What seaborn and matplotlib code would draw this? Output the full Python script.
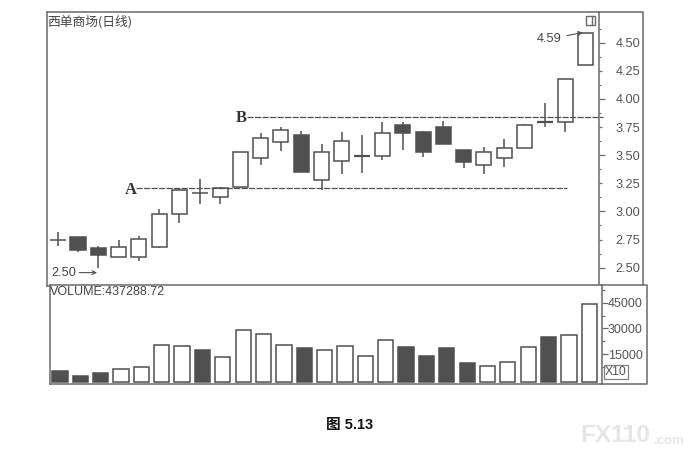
# 西单商场 daily candles with volume panel
import matplotlib
matplotlib.use('Agg')
import matplotlib.pyplot as plt
from matplotlib.lines import Line2D
from matplotlib.patches import Rectangle
from matplotlib.ticker import FixedLocator
import pandas as pd
import seaborn as sns

# Candle data
opens  = [2.746, 2.776, 2.678, 2.598, 2.598, 2.681, 2.974, 3.167, 3.128, 3.217, 3.478, 3.617, 3.679, 3.279,
          3.445, 3.496, 3.493, 3.768, 3.703, 3.748, 3.549, 3.410, 3.475, 3.567, 3.798, 3.792, 4.299]
closes = [2.746, 2.657, 2.613, 2.687, 2.752, 2.974, 3.188, 3.167, 3.205, 3.531, 3.650, 3.724, 3.354, 3.528,
          3.626, 3.496, 3.694, 3.697, 3.525, 3.602, 3.439, 3.528, 3.567, 3.765, 3.798, 4.174, 4.589]
highs  = [2.814, 2.776, 2.696, 2.743, 2.782, 3.022, 3.205, 3.288, 3.220, 3.531, 3.700, 3.754, 3.715, 3.602,
          3.709, 3.679, 3.792, 3.798, 3.718, 3.804, 3.549, 3.576, 3.641, 3.777, 3.967, 4.174, 4.589]
lows   = [2.696, 2.636, 2.500, 2.598, 2.562, 2.672, 2.900, 3.063, 3.063, 3.217, 3.413, 3.540, 3.354, 3.190,
          3.336, 3.339, 3.454, 3.543, 3.487, 3.602, 3.383, 3.330, 3.392, 3.567, 3.748, 3.709, 4.299]

volumes = [5060, 2330, 3890, 6035, 7205, 20270, 19685, 17345, 13250, 29045, 26510, 20465, 18515, 17150,
           19880, 13640, 23195, 19295, 13835, 18710, 9740, 7790, 10520, 19295, 24755, 26315, 44060]
vol_dark = [1, 1, 1, 0, 0, 0, 0, 1, 0, 0, 0, 0, 1, 0, 0, 0, 0, 1, 1, 1, 1, 0, 0, 0, 1, 0, 0]

price_ticks = [2.50, 2.75, 3.00, 3.25, 3.50, 3.75, 4.00, 4.25, 4.50]
vol_ticks = [15000, 30000, 45000]

level_a = 3.21
level_b = 3.84

DARK = '#505050'
GREY = '#6a6a6a'
W, H = 700, 459

sns.set_style('white')
plt.rcParams['font.family'] = ['Liberation Sans', 'Noto Sans CJK SC']

fig = plt.figure(figsize=(7.0, 4.59), dpi=100)


# axes placed by pixel box, y counted from the top of the picture
def add_box(x0, y0, x1, y1):
    return fig.add_axes([x0 / W, 1 - y1 / H, (x1 - x0) / W, (y1 - y0) / H])


def frame_line(xs, ys, lw=1.1):
    fig.add_artist(Line2D([x / W for x in xs], [1 - y / H for y in ys], color=GREY, lw=lw))


# Price panel
ax = add_box(47, 12, 599, 286)
for i in range(len(opens)):
    top = max(opens[i], closes[i])
    bottom = min(opens[i], closes[i])
    ax.vlines(i, lows[i], highs[i], color=DARK, lw=1.1, zorder=1)
    if top - bottom < 0.001:
        ax.hlines(top, i - 0.385, i + 0.385, color=DARK, lw=1.6 if i in (15, 24) else 1.1, zorder=2)
    else:
        face = DARK if closes[i] < opens[i] else 'white'
        ax.bar(i, top - bottom, 0.74, bottom=bottom, facecolor=face, edgecolor=DARK, lw=1.1, zorder=2)

ax.hlines(level_a, 3.86, 25.07, color=DARK, lw=0.9, linestyles=(0, (5, 1)))
ax.hlines(level_b, 9.33, 26.86, color=DARK, lw=0.9, linestyles=(0, (5, 1)), clip_on=False)
ax.text(3.58, level_a - 0.02, 'A', family='Liberation Serif', weight='bold', fontsize=12, color='#333333',
        ha='center', va='center')
ax.text(9.05, level_b - 0.01, 'B', family='Liberation Serif', weight='bold', fontsize=12, color='#333333',
        ha='center', va='center')

ax.annotate('2.50', xy=(1.94, 2.456), xytext=(0.9, 2.456), color='#444444', fontsize=9.2, ha='right', va='center',
            arrowprops=dict(arrowstyle='->', color=DARK, lw=0.8, shrinkA=0, shrinkB=0, mutation_scale=7))
ax.annotate('4.59', xy=(25.88, 4.59), xytext=(24.8, 4.53), color='#444444', fontsize=9.2, ha='right', va='center',
            arrowprops=dict(arrowstyle='->', color=DARK, lw=0.8, shrinkA=2, shrinkB=0, mutation_scale=7))
ax.text(0.0, 0.963, '西单商场(日线)', transform=ax.transAxes, fontsize=9.2, color='#444444', va='center',
        family=['Noto Sans CJK SC', 'Liberation Sans'])

ax.set_xlim(-0.527, 26.67)
ax.set_ylim(2.337, 4.772)
ax.set_xticks([])
ax.yaxis.tick_right()
ax.set_yticks(price_ticks)
ax.set_yticklabels(['%.2f' % t for t in price_ticks], color='#555555', fontsize=9.2)
ax.yaxis.set_minor_locator(FixedLocator([2.625, 2.875, 3.125, 3.375, 3.625, 3.875, 4.125, 4.375, 4.625]))
ax.tick_params(axis='y', which='major', right=True, length=4, width=0.9, color=GREY, pad=8)
ax.tick_params(axis='y', which='minor', right=True, length=1.5, width=0.8, color=GREY)
for tick, t in zip(ax.yaxis.get_major_ticks(), price_ticks):
    if t in (2.75, 3.25, 3.75, 4.25):
        tick.tick2line.set_markersize(2)
for s in ax.spines.values():
    s.set_color(GREY)
    s.set_linewidth(1.1)

# Volume panel
vol_floor = -1375
vol_df = pd.DataFrame({'day': range(len(volumes)),
                       'height': [v - vol_floor for v in volumes],
                       'dark': vol_dark})
ax2 = add_box(50, 285, 601.5, 384)
sns.barplot(data=vol_df, x='day', y='height', hue='dark', palette={0: 'white', 1: DARK}, dodge=False,
            legend=False, width=0.75, edgecolor=DARK, linewidth=1.1, bottom=vol_floor, ax=ax2)
ax2.set_xlim(-0.49, 26.6)
ax2.set_ylim(-2545, 55370)
ax2.set_xlabel('')
ax2.set_ylabel('')
ax2.set_xticks([])
ax2.yaxis.tick_right()
ax2.set_yticks(vol_ticks)
ax2.set_yticklabels([str(t) for t in vol_ticks], color='#555555', fontsize=9)
ax2.yaxis.set_minor_locator(FixedLocator([7500, 22500, 37500, 52500]))
ax2.tick_params(axis='y', which='major', right=True, length=4, width=0.9, color=GREY, pad=0.6)
ax2.tick_params(axis='y', which='minor', right=True, length=2, width=0.8, color=GREY)
ax2.text(0.0, 0.925, 'VOLUME:437288.72', transform=ax2.transAxes, fontsize=9, color='#444444', va='center')
for s in ax2.spines.values():
    s.set_color(GREY)
    s.set_linewidth(1.1)

# Outer frame right of the axes
frame_line([599, 643, 643], [12, 12, 285])
frame_line([601, 647, 647, 601], [285, 285, 384, 384])

# small window icon and the X10 box
fig.add_artist(Rectangle((585.5 / W, 1 - 24.5 / H), 9.5 / W, 8.5 / H, fill=False, ec=GREY, lw=1.0,
                         transform=fig.transFigure))
frame_line([591.5, 591.5], [16, 24.5], lw=1.0)
fig.add_artist(Rectangle((603.5 / W, 1 - 379 / H), 24 / W, 14 / H, fill=False, ec='#808080', lw=0.9,
                         transform=fig.transFigure))
fig.text(615.5 / W, 1 - 372 / H, 'X10', fontsize=8.8, color='#555555', ha='center', va='center')

# Caption and watermark
fig.text(350 / W, 1 - 424.5 / H, '图 5.13', fontsize=10.5, weight='bold', color='#111111', ha='center', va='center',
         family=['Liberation Sans', 'Noto Sans CJK SC'])
fig.text(580 / W, 1 - 436 / H, 'FX110', fontsize=17.5, weight='bold', color='#e6e6e6', ha='left', va='center')
fig.text(653 / W, 1 - 441 / H, '.com', fontsize=9.5, weight='bold', color='#e6e6e6', ha='left', va='center')

fig.savefig('out.png', dpi=100)
